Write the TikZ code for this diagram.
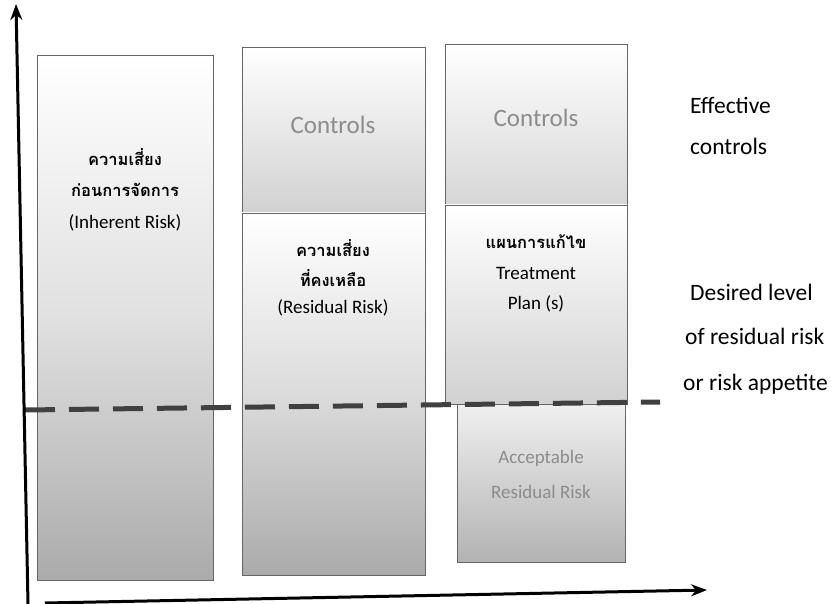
\documentclass[tikz,border=0pt]{standalone}
\usepackage{fontspec}
\setmainfont{Carlito}
\newfontfamily\thai[Script=Thai]{Loma}
\usetikzlibrary{arrows.meta}
\begin{document}
\begin{tikzpicture}[x=1pt,y=-1pt,
  box/.style={draw=black!60, line width=0.8pt, inner sep=0pt, outer sep=0pt, anchor=north west},
  axis/.style={line width=3pt, black, -{Stealth[length=16pt,width=12pt]}},
  thl/.style={font=\thai\bfseries\fontsize{16.5}{19}\selectfont, inner sep=0pt},
  enl/.style={font=\fontsize{19}{22}\selectfont, inner sep=0pt},
  ctl/.style={font=\fontsize{25}{30}\selectfont, text=black!45, inner sep=0pt},
  acc/.style={font=\fontsize{19}{22}\selectfont, text=black!45, inner sep=0pt},
  side/.style={font=\fontsize{23.5}{28}\selectfont, inner sep=0pt, anchor=west},
  level/.style={line width=5pt, black!75, dash pattern=on 30pt off 14pt}
]
\useasboundingbox (0,0) rectangle (835,604);

% boxes
\node[box, minimum width=176pt, minimum height=525pt, top color=white, bottom color=black!33, middle color=black!12] (b1) at (37,55) {};
\node[box, minimum width=183pt, minimum height=166pt, top color=white, bottom color=black!18] (b2u) at (242,47) {};
\node[box, minimum width=183pt, minimum height=362pt, top color=white, bottom color=black!33, middle color=black!14] (b2l) at (242,213) {};
\node[box, minimum width=182pt, minimum height=161pt, top color=white, bottom color=black!16] (b3u) at (445,44) {};
\node[box, minimum width=182pt, minimum height=199pt, top color=white, bottom color=black!18] (b3m) at (445,205) {};
\node[box, minimum width=168pt, minimum height=158pt, top color=black!6, bottom color=black!30] (b3a) at (457,404) {};

% box 1 texts
\node[thl] (t1a) at (125,157) {ความเสี่ยง};
\node[thl] (t1b) at (125,190) {ก่อนการจัดการ};
\node[enl] (t1c) at (125,223) {(Inherent Risk)};

% box 2 texts
\node[ctl] (c2) at (333,125) {Controls};
\node[thl] (t2a) at (333,248) {ความเสี่ยง};
\node[thl] (t2b) at (333,278) {ที่คงเหลือ};
\node[enl] (t2c) at (333,308) {(Residual Risk)};

% box 3 texts
\node[ctl] (c3) at (536,118) {Controls};
\node[thl] (t3a) at (536,242) {แผนการแก้ไข};
\node[enl] (t3b) at (536,273) {Treatment};
\node[enl] (t3c) at (536,304) {Plan (s)};
\node[acc] (a1) at (541,458) {Acceptable};
\node[acc] (a2) at (541,492) {Residual Risk};

% right labels
\node[side] (s1) at (690,105) {Effective};
\node[side] (s2) at (690,146) {controls};
\node[side] (s3) at (690,292) {Desired level};
\node[side] (s4) at (685,336) {of residual risk};
\node[side] (s5) at (683,384) {or risk appetite};

% level line
\coordinate (dl) at (25,410);
\coordinate (dr) at (660,402);
\draw[level] (dl) -- (dr);

% axes
\coordinate (yb) at (28,604);
\coordinate (yt) at (16,4);
\coordinate (xs) at (45,603);
\coordinate (xe) at (707,590);
\draw[axis] (yb) -- (yt);
\draw[axis] (xs) -- (xe);
\end{tikzpicture}
\end{document}
